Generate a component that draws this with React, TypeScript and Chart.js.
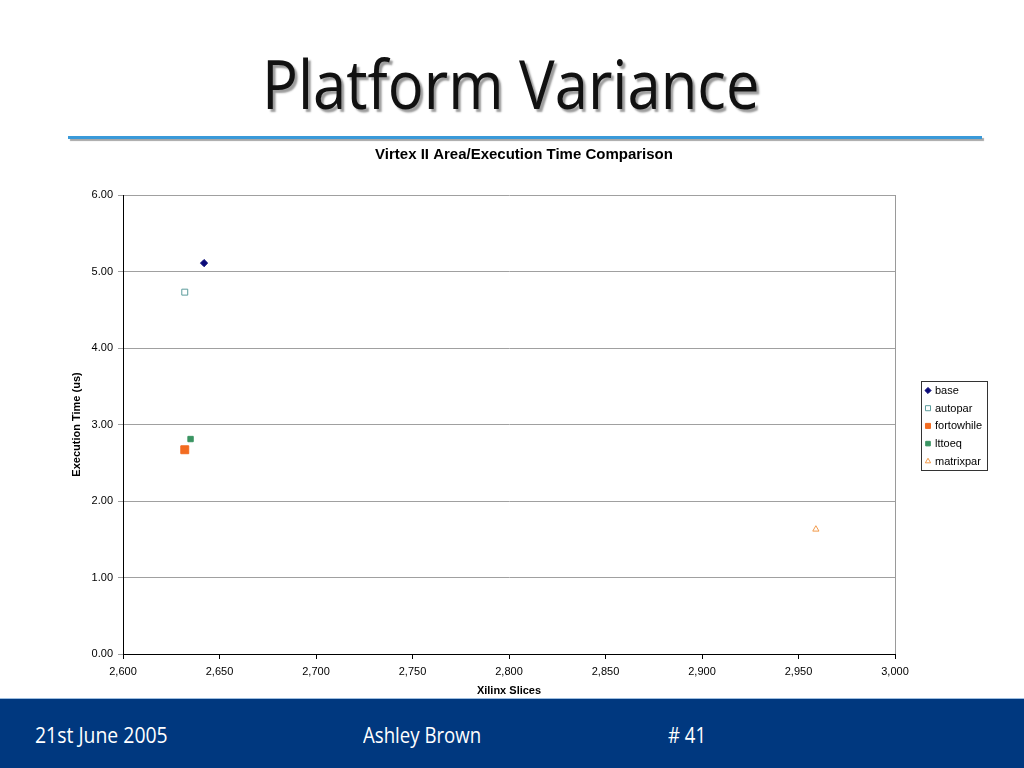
import React, { useEffect, useLayoutEffect, useRef, useState } from 'react';
import { Chart, registerables } from 'chart.js';
import { drawPoint } from 'chart.js/helpers';

Chart.register(...registerables);

// ---- text ----
const slideTitle = 'Platform Variance';
const chartTitle = 'Virtex II Area/Execution Time Comparison';
const xAxisTitle = 'Xilinx Slices';
const yAxisTitle = 'Execution Time (us)';
const footerTexts = ['21st June 2005', 'Ashley Brown', '# 41'];

// ---- data ----
const seriesNames = ['base', 'autopar', 'fortowhile', 'lttoeq', 'matrixpar'];
const sliceCounts = [2642, 2632, 2632, 2635, 2959];
const execTimes = [5.11, 4.73, 2.67, 2.81, 1.63];

// ---- axes ----
const xMin = 2600;
const xMax = 3000;
const xStep = 50;
const yMin = 0;
const yMax = 6;
const yStep = 1;

// ---- marker styles (per series) ----
const markerStyles = [
  { pointStyle: 'rectRot', radius: 3.6, fill: '#0a0a78', stroke: '#0a0a78', borderWidth: 1 },
  { pointStyle: 'rect', radius: 4.2, fill: '#ffffff', stroke: '#5c9c9c', borderWidth: 1 },
  { pointStyle: 'rect', radius: 5.6, fill: '#f36c21', stroke: '#f36c21', borderWidth: 1 },
  { pointStyle: 'rect', radius: 3.8, fill: '#3a9462', stroke: '#3a9462', borderWidth: 1 },
  { pointStyle: 'triangle', radius: 3.6, fill: '#ffffff', stroke: '#f29a4a', borderWidth: 1 },
];

const FONT = '"Liberation Sans", Arial, sans-serif';

const decorPlugin = {
  id: 'decor',
  beforeDatasetsDraw(chart: any) {
    const { ctx, chartArea: a } = chart;
    ctx.save();
    ctx.strokeStyle = '#9a9a9a';
    ctx.lineWidth = 1;
    ctx.beginPath();
    ctx.moveTo(Math.round(a.right) + 0.5, a.top);
    ctx.lineTo(Math.round(a.right) + 0.5, a.bottom);
    ctx.stroke();
    ctx.restore();
  },
  afterDraw(chart: any) {
    const { ctx } = chart;
    ctx.save();
    // chart title
    ctx.fillStyle = '#000';
    ctx.font = `bold 15px ${FONT}`;
    ctx.textAlign = 'center';
    ctx.textBaseline = 'middle';
    ctx.fillText(chartTitle, 524, 14.5);

    // legend
    const lx = 921;
    const ly = 241;
    const lw = 66;
    const lh = 89;
    ctx.fillStyle = '#fff';
    ctx.fillRect(lx, ly, lw, lh);
    ctx.strokeStyle = '#333';
    ctx.lineWidth = 1;
    ctx.strokeRect(lx + 0.5, ly + 0.5, lw, lh);
    ctx.font = `11px ${FONT}`;
    ctx.textAlign = 'left';
    ctx.textBaseline = 'middle';
    chart.data.datasets.forEach((ds: any, i: number) => {
      const y = ly + 9.5 + i * 17.7;
      ctx.fillStyle = ds.backgroundColor;
      ctx.strokeStyle = ds.borderColor;
      ctx.lineWidth = ds.borderWidth;
      drawPoint(ctx, {
        pointStyle: ds.pointStyle,
        radius: Math.min(ds.pointRadius, 4.2) * 0.85,
        rotation: 0,
        borderWidth: ds.borderWidth,
      } as any, lx + 7, y);
      ctx.fillStyle = '#000';
      ctx.fillText(ds.label, lx + 14, y + 0.5);
    });
    ctx.restore();
  },
};

function FitText({ text, width, style }: { text: string; width: number; style: React.CSSProperties }) {
  const ref = useRef<HTMLSpanElement>(null);
  const [scale, setScale] = useState(1);
  useLayoutEffect(() => {
    if (ref.current) {
      const w = ref.current.offsetWidth;
      if (w > 0) setScale(width / w);
    }
  }, [text, width]);
  return (
    <span
      ref={ref}
      style={{
        ...style,
        position: 'absolute',
        whiteSpace: 'nowrap',
        transform: `scaleX(${scale})`,
        transformOrigin: 'left top',
      }}
    >
      {text}
    </span>
  );
}

export default function App() {
  const canvasRef = useRef<HTMLCanvasElement>(null);

  useEffect(() => {
    if (!canvasRef.current) return;
    const datasets = seriesNames.map((name, i) => {
      const s = markerStyles[i];
      return {
        label: name,
        data: [{ x: sliceCounts[i], y: execTimes[i] }],
        pointStyle: s.pointStyle,
        pointRadius: s.radius,
        backgroundColor: s.fill,
        borderColor: s.stroke,
        borderWidth: s.borderWidth,
        showLine: false,
      };
    });
    const chart = new Chart(canvasRef.current, {
      type: 'scatter',
      data: { datasets: datasets as any },
      plugins: [decorPlugin],
      options: {
        animation: false,
        responsive: false,
        maintainAspectRatio: false,
        layout: { padding: { top: 55, right: 129, left: 0, bottom: 0 } },
        plugins: {
          legend: { display: false },
          title: { display: false },
          tooltip: { enabled: false },
        },
        scales: {
          x: {
            type: 'linear',
            min: xMin,
            max: xMax,
            afterFit(scale: any) {
              scale.height = 46;
            },
            ticks: {
              stepSize: xStep,
              padding: 6,
              color: '#000',
              font: { family: FONT, size: 11 },
              callback: (v: any) => Number(v).toLocaleString('en-US'),
            },
            grid: {
              drawOnChartArea: false,
              drawTicks: true,
              tickLength: 5,
              tickColor: '#000',
            },
            border: { display: true, color: '#000', width: 1 },
            title: {
              display: true,
              text: xAxisTitle,
              color: '#000',
              font: { family: FONT, size: 11, weight: 'bold' },
              padding: { top: 0, bottom: 2 },
            },
          },
          y: {
            type: 'linear',
            min: yMin,
            max: yMax,
            afterFit(scale: any) {
              scale.width = 123;
            },
            ticks: {
              stepSize: yStep,
              padding: 5,
              color: '#000',
              font: { family: FONT, size: 11 },
              callback: (v: any) => Number(v).toFixed(2),
            },
            grid: {
              color: '#a0a0a0',
              tickLength: 5,
              tickColor: '#a0a0a0',
            },
            border: { display: true, color: '#000', width: 1 },
            title: {
              display: true,
              text: yAxisTitle,
              color: '#000',
              font: { family: FONT, size: 11, weight: 'bold' },
              padding: { top: 70, bottom: 0 },
            },
          },
        },
      } as any,
    });
    return () => chart.destroy();
  }, []);

  const footerPos = [
    { left: 35, width: 133 },
    { left: 363, width: 118 },
    { left: 668, width: 38 },
  ];

  return (
    <div
      style={{
        position: 'absolute',
        left: 0,
        top: 0,
        width: 1024,
        height: 768,
        overflow: 'hidden',
        background: '#fff',
        fontFamily: '"Open Sans", sans-serif',
      }}
    >
      <FitText
        text={slideTitle}
        width={498}
        style={{
          left: 262,
          top: 50,
          fontSize: 67,
          lineHeight: '67px',
          color: '#111',
          textShadow: '3px 3px 2px #9c9c9c',
        }}
      />
      <div
        style={{
          position: 'absolute',
          left: 68,
          top: 136,
          width: 914,
          height: 3,
          background: '#3a9ad9',
          boxShadow: '2px 2px 1px #a8a8a8',
        }}
      />
      <canvas
        ref={canvasRef}
        width={1024}
        height={560}
        style={{ position: 'absolute', left: 0, top: 140, width: 1024, height: 560 }}
      />
      <div
        style={{
          position: 'absolute',
          left: 0,
          top: 698,
          width: 1024,
          height: 70,
          background: '#00387f',
          borderTop: '1px solid #9cbde0',
          boxSizing: 'border-box',
        }}
      >
        {footerTexts.map((t, i) => (
          <FitText
            key={i}
            text={t}
            width={footerPos[i].width}
            style={{
              left: footerPos[i].left,
              top: 26,
              fontSize: 21,
              lineHeight: '21px',
              color: '#fff',
            }}
          />
        ))}
      </div>
    </div>
  );
}
